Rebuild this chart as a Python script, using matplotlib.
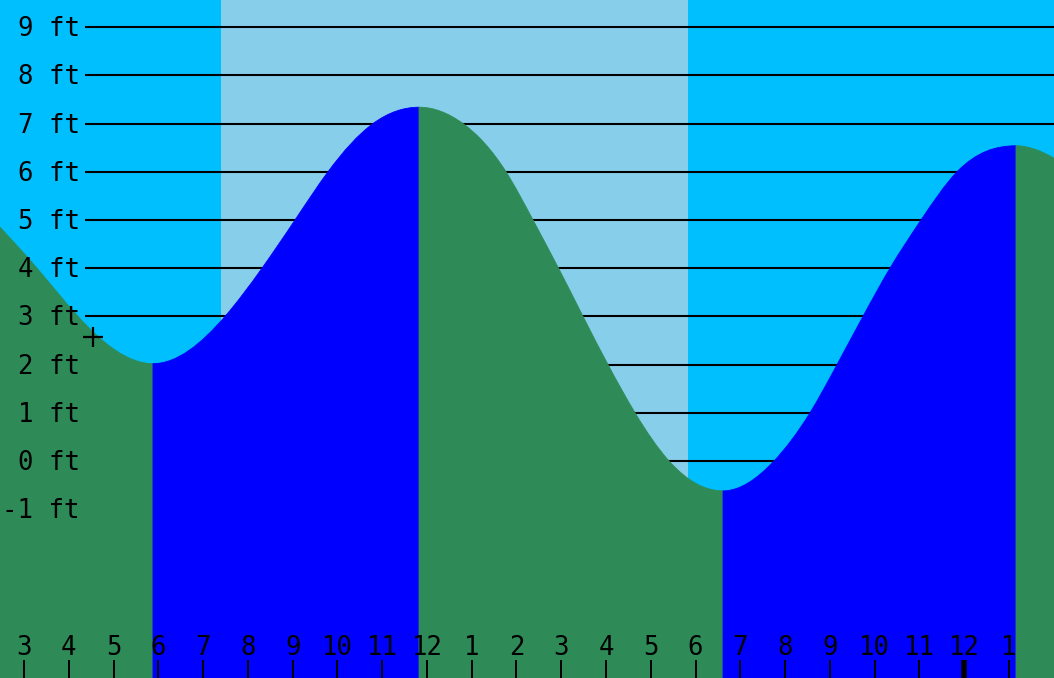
import numpy as np
import matplotlib
matplotlib.use("Agg")
import matplotlib.pyplot as plt
from matplotlib.path import Path
from matplotlib.patches import PathPatch
import matplotlib.transforms as mtransforms

# ---- data (hours since midnight, height in feet) ----
# tide curve readings, split into falling / rising limbs
limb_falling_0_t = [2.464, 3.29, 4.206, 5.881]
limb_falling_0_h = [4.85, 4.0, 3.0, 2.02]
limb_rising_1_t = [5.881, 7.49, 8.316, 9.053, 9.79, 10.795, 11.823]
limb_rising_1_h = [2.02, 3.0, 4.0, 5.0, 6.0, 7.0, 7.34]
limb_falling_2_t = [11.823, 12.806, 13.766, 14.369, 14.939, 15.486, 16.044, 16.648, 17.407, 18.613]
limb_falling_2_h = [7.34, 7.0, 6.0, 5.0, 4.0, 3.0, 2.0, 1.0, 0.0, -0.62]
limb_rising_3_t = [18.613, 19.752, 20.556, 21.16, 21.74, 22.343, 23.036, 23.84, 25.157]
limb_rising_3_h = [-0.62, 0.0, 1.0, 2.0, 3.0, 4.0, 5.0, 6.0, 6.54]
limb_falling_4_t = [25.157, 25.582, 26.006]
limb_falling_4_h = [6.54, 6.467, 6.28]

sunrise = 7.40
sunset = 17.83
now_t = 4.541
now_h = 2.57

levels = [9, 8, 7, 6, 5, 4, 3, 2, 1, 0, -1]
level_labels = [f"{v} ft" for v in levels]
hour_ticks = list(range(3, 26))
hour_labels = [str((h - 1) % 12 + 1) for h in hour_ticks]
midnight = 24

# ---- style ----
DAY = "#87CEEB"
NIGHT = "#00BFFF"
FALL = "#2E8B57"
RISE = "#0000FF"
FONT = "DejaVu Sans Mono"
FS = 18.5

W, H = 1054, 678
t0, t1 = 2.4639, 26.006
y0, y1 = -4.502, 9.564


def end_slope(t, h, at_start):
    """One-sided slope estimate for a limb end that is cut by the frame."""
    if at_start:
        tt, hh = t[:3], h[:3]
    else:
        tt, hh = t[-3:][::-1], h[-3:][::-1]
    if len(tt) < 3:
        return (hh[1] - hh[0]) / (tt[1] - tt[0])
    a, b = tt[1] - tt[0], tt[2] - tt[1]
    d0 = (hh[1] - hh[0]) / a
    d1 = (hh[2] - hh[1]) / b
    return ((2 * a + b) * d0 - a * d1) / (a + b)


def clamped_slopes(t, h, m_first, m_last):
    """Knot slopes of a C2 cubic spline with given end slopes."""
    t = np.asarray(t, float)
    h = np.asarray(h, float)
    n = len(t)
    m = np.zeros(n)
    m[0], m[-1] = m_first, m_last
    if n <= 2:
        return m
    dt = np.diff(t)
    d = np.diff(h) / dt
    A = np.zeros((n - 2, n - 2))
    r = np.zeros(n - 2)
    for i, k in enumerate(range(1, n - 1)):
        A[i, i] = 2 * (dt[k - 1] + dt[k])
        r[i] = 3 * (dt[k] * d[k - 1] + dt[k - 1] * d[k])
        if i > 0:
            A[i, i - 1] = dt[k]
        else:
            r[i] -= dt[k] * m[0]
        if i < n - 3:
            A[i, i + 1] = dt[k - 1]
        else:
            r[i] -= dt[k - 1] * m[-1]
    m[1:-1] = np.linalg.solve(A, r)
    return m


def limb_path(t, h, first_flat, last_flat, bottom):
    m_first = 0.0 if first_flat else end_slope(t, h, True)
    m_last = 0.0 if last_flat else end_slope(t, h, False)
    m = clamped_slopes(t, h, m_first, m_last)
    verts = [(t[0], bottom), (t[0], h[0])]
    codes = [Path.MOVETO, Path.LINETO]
    for k in range(len(t) - 1):
        dt = t[k + 1] - t[k]
        verts += [(t[k] + dt / 3, h[k] + m[k] * dt / 3),
                  (t[k + 1] - dt / 3, h[k + 1] - m[k + 1] * dt / 3),
                  (t[k + 1], h[k + 1])]
        codes += [Path.CURVE4] * 3
    verts += [(t[-1], bottom), (t[0], bottom)]
    codes += [Path.LINETO, Path.CLOSEPOLY]
    return Path(verts, codes)


fig = plt.figure(figsize=(W / 100, H / 100), dpi=100)
ax = fig.add_axes([0, 0, 1, 1])
ax.set_xlim(t0, t1)
ax.set_ylim(y0, y1)
ax.axis("off")

# sky: night / day / night
ax.axvspan(t0, sunrise, color=NIGHT, lw=0, zorder=0)
ax.axvspan(sunrise, sunset, color=DAY, lw=0, zorder=0)
ax.axvspan(sunset, t1, color=NIGHT, lw=0, zorder=0)

# level lines (behind the water)
line_start = t0 + 85 / W * (t1 - t0)
ax.hlines(levels, line_start, t1, colors="black", lw=1.5, zorder=1)

# water, coloured by tide direction
limbs = [
    (limb_falling_0_t, limb_falling_0_h, False, True, FALL),
    (limb_rising_1_t, limb_rising_1_h, True, True, RISE),
    (limb_falling_2_t, limb_falling_2_h, True, True, FALL),
    (limb_rising_3_t, limb_rising_3_h, True, True, RISE),
    (limb_falling_4_t, limb_falling_4_h, True, False, FALL),
]
for t, h, ff, lf, col in limbs:
    p = limb_path(t, h, ff, lf, y0 - 1)
    ax.add_patch(PathPatch(p, facecolor=col, edgecolor=col, lw=0.6, zorder=2))

# level labels
lab_tr = mtransforms.blended_transform_factory(ax.transAxes, ax.transData) + \
    mtransforms.ScaledTranslation(0, -9 / 100, fig.dpi_scale_trans)
for v, s in zip(levels, level_labels):
    ax.text(80 / W, v, s, transform=lab_tr, ha="right", va="baseline",
            fontsize=FS, family=FONT, color="black", zorder=4)

# current time marker
ax.plot([now_t], [now_h], marker="+", ms=15, mew=1.6, color="black", zorder=4)

# hour ticks and labels
tick_tr = mtransforms.blended_transform_factory(ax.transData, ax.transAxes)
for ht, lab in zip(hour_ticks, hour_labels):
    lw = 4.0 if ht == midnight else 1.4
    ax.plot([ht, ht], [0, 18 / H], color="black", lw=lw, transform=tick_tr,
            solid_capstyle="butt", zorder=4)
    ax.text(ht, 23 / H, lab, transform=tick_tr, ha="center", va="baseline",
            fontsize=FS, family=FONT, color="black", zorder=4)

fig.savefig("out.png", dpi=100)
